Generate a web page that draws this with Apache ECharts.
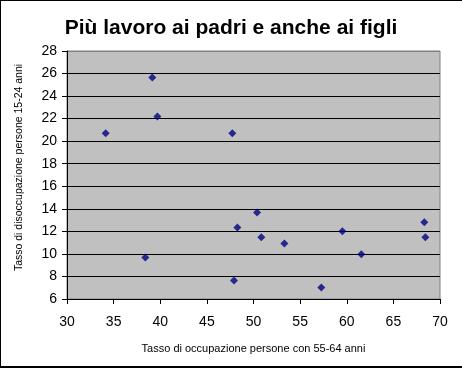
<!DOCTYPE html>
<html><head><meta charset="utf-8">
<script src="https://cdn.jsdelivr.net/npm/echarts@6/dist/echarts.min.js"></script>
<style>html,body{margin:0;padding:0;background:#fff}#c{width:462px;height:368px}</style>
</head><body><div id="c"></div>
<script>
var titleText = 'Più lavoro ai padri e anche ai figli';
var xName = 'Tasso di occupazione persone con 55-64 anni';
var yName = 'Tasso di disoccupazione persone 15-24 anni';
var xValues = [34.15, 39.15, 39.69, 47.73, 38.40, 48.27, 47.91, 50.38, 50.84, 53.31, 57.27, 59.53, 61.56, 68.32, 68.43];
var yValues = [20.7, 25.66, 22.2, 20.7, 9.69, 12.35, 7.65, 13.68, 11.47, 10.93, 7.03, 12.0, 9.96, 12.8, 11.47];
var FONT = 'Liberation Sans, Arial, sans-serif';
var pts = xValues.map(function(x,i){return [x, yValues[i]];});
var splitColors = [];
for (var i=0;i<11;i++) splitColors.push('#000');
splitColors.push('#808080');
var chart = echarts.init(document.getElementById('c'), null, {renderer:'canvas'});
chart.setOption({
  animation:false,
  backgroundColor:'#fff',
  title:{text:titleText,left:'center',top:18,padding:0,
    textStyle:{fontFamily:FONT,fontSize:21,fontWeight:'bold',color:'#000'}},
  grid:{left:67,right:22,top:51,bottom:69,show:true,backgroundColor:'#c0c0c0',borderColor:'#808080',borderWidth:1},
  xAxis:{type:'value',min:30,max:70,interval:5,
    name:xName,nameLocation:'middle',nameGap:44,
    nameTextStyle:{fontFamily:FONT,fontSize:11,color:'#000'},
    axisLine:{show:true,lineStyle:{color:'#000',width:1}},
    axisTick:{show:true,inside:false,length:5,lineStyle:{color:'#000'}},
    axisLabel:{fontFamily:FONT,fontSize:14,color:'#000',margin:16},
    splitLine:{show:false}},
  yAxis:{type:'value',min:6,max:28,interval:2,
    name:yName,nameLocation:'middle',nameGap:42,
    nameTextStyle:{fontFamily:FONT,fontSize:10.5,color:'#000',padding:[0,0,0,15]},
    axisLine:{show:true,lineStyle:{color:'#000',width:1}},
    axisTick:{show:true,inside:false,length:5,lineStyle:{color:'#000'}},
    axisLabel:{fontFamily:FONT,fontSize:14,color:'#000',margin:10},
    splitLine:{show:true,lineStyle:{color:splitColors,width:1}}},
  series:[{type:'scatter',data:pts,symbol:'diamond',symbolSize:8,
    itemStyle:{color:'#000080'}}],
  graphic:[{type:'rect',shape:{x:0,y:0,width:480,height:367},
    style:{fill:'none',stroke:'#000',lineWidth:2},silent:true,z:100}]
});
</script></body></html>
